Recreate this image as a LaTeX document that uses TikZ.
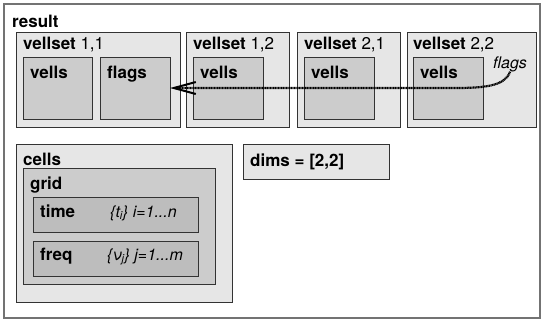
\documentclass[tikz,border=0pt]{standalone}
\usepackage{fontspec}
\setmainfont{TeX Gyre Heros}
\usetikzlibrary{arrows.meta}
\definecolor{lite}{HTML}{E6E6E6}
\definecolor{mid}{HTML}{CCCCCC}
\definecolor{dark}{HTML}{BDBDBD}
\definecolor{edge}{HTML}{333333}
\tikzset{
  bx/.style={draw=edge, line width=0.9pt, anchor=north west, inner sep=0pt, outer sep=0pt},
  lvla/.style={bx, fill=lite},
  lvlb/.style={bx, fill=mid},
  lvlc/.style={bx, fill=dark},
  lbl/.style={anchor=base west, inner sep=0pt, font=\fontsize{17}{19}\selectfont\bfseries},
  itl/.style={anchor=base west, inner sep=0pt, font=\fontsize{16}{18}\selectfont\itshape},
  flow/.style={line width=2.2pt, dash pattern=on 1.1pt off 0.5pt, -{Straight Barb[length=22pt,width=12pt,line width=2pt]}}
}
\begin{document}
\begin{tikzpicture}[x=1pt,y=-1pt]
\useasboundingbox (0,0) rectangle (541,322);
\node[bx, draw=black!55, line width=1.4pt, minimum width=536pt, minimum height=314pt] (res) at (4,4) {};
\node[lbl] (reslbl) at (12,27) {result};
% vellsets
\node[lvla, minimum width=164pt, minimum height=95pt] (vs11) at (16,32) {};
\node[lvla, minimum width=103pt, minimum height=95pt] (vs12) at (186,32) {};
\node[lvla, minimum width=103pt, minimum height=95pt] (vs21) at (297,32) {};
\node[lvla, minimum width=129pt, minimum height=95pt] (vs22) at (407,32) {};
\node[lbl] (l11) at (23,49) {vellset \mdseries 1,1};
\node[lbl] (l12) at (193,49) {vellset \mdseries 1,2};
\node[lbl] (l21) at (304,49) {vellset \mdseries 2,1};
\node[lbl] (l22) at (413,49) {vellset \mdseries 2,2};
% inner boxes
\node[lvlb, minimum width=69pt, minimum height=62pt] (v11) at (23,57) {};
\node[lvlb, minimum width=70pt, minimum height=62pt] (flags) at (100,57) {};
\node[lvlb, minimum width=70pt, minimum height=62pt] (v12) at (193,57) {};
\node[lvlb, minimum width=70pt, minimum height=62pt] (v21) at (304,57) {};
\node[lvlb, minimum width=70pt, minimum height=62pt] (v22) at (413,57) {};
\node[lbl] (tv11) at (30,78) {vells};
\node[lbl] (tfl) at (107,78) {flags};
\node[lbl] (tv12) at (200,78) {vells};
\node[lbl] (tv21) at (311,78) {vells};
\node[lbl] (tv22) at (420,78) {vells};
\node[itl] (fl) at (493,68) {flags};
% cells
\node[lvla, minimum width=216pt, minimum height=158pt] (cells) at (16,144) {};
\node[lbl] (tcells) at (23,165) {cells};
\node[lvlb, minimum width=192pt, minimum height=116pt] (grid) at (23,168) {};
\node[lbl] (tgrid) at (30,189) {grid};
\node[lvlc, minimum width=165pt, minimum height=35pt] (time) at (33,197) {};
\node[lvlc, minimum width=165pt, minimum height=35pt] (freq) at (33,241) {};
\node[lbl] (ttime) at (40,217) {time};
\node[lbl] (tfreq) at (40,260) {freq};
\node[itl] (it) at (110,217) {\{t\textsubscript{i}\} i=1...n};
\node[itl] (iv) at (107,260) {\{ν\textsubscript{j}\} j=1...m};
% dims
\node[lvla, minimum width=146pt, minimum height=35pt] (dims) at (243,144) {};
\node[lbl] (tdims) at (250,166) {dims = [2,2]};
% connector
\draw[flow] (fl.south) .. controls (505,86) and (485,88) .. (455,88) -- (flags.east);
\end{tikzpicture}
\end{document}
